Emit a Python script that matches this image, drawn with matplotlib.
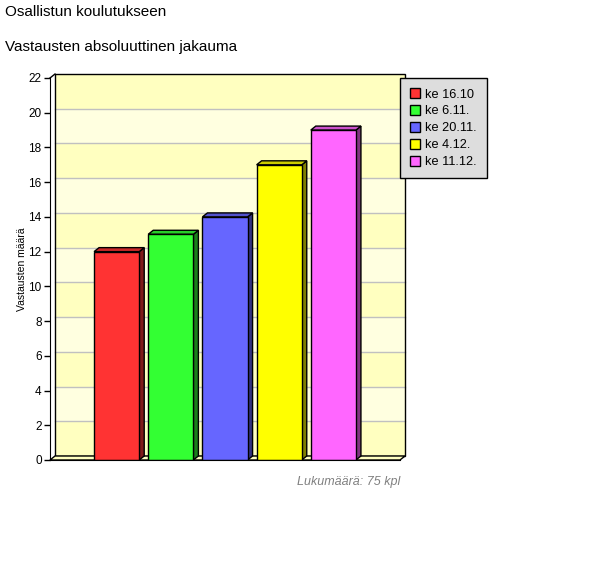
import matplotlib
matplotlib.use("Agg")
import matplotlib.pyplot as plt
from matplotlib.patches import Polygon, Rectangle, Patch
from matplotlib.colors import to_rgb
import numpy as np

plt.rcParams["font.family"] = ["Liberation Sans", "DejaVu Sans"]

# --- data ---------------------------------------------------------------
labels = ["ke 16.10", "ke 6.11.", "ke 20.11.", "ke 4.12.", "ke 11.12."]
values = [12, 13, 14, 17, 19]
colors = ["#FF3333", "#33FF33", "#6666FF", "#FFFF00", "#FF66FF"]
yticks = list(range(0, 23, 2))
title1 = "Osallistun koulutukseen"
title2 = "Vastausten absoluuttinen jakauma"
ylabel = "Vastausten määrä"
footer = "Lukumäärä: 75 kpl"

W, H, DPI = 600, 578, 100
fig = plt.figure(figsize=(W / DPI, H / DPI), dpi=DPI)
fig.patch.set_facecolor("white")

# front plane of the plot in pixels
L, R, B, T = 50, 400, 460, 78
ax = fig.add_axes([L / W, 1 - B / H, (R - L) / W, (B - T) / H])
xmin, xmax, ymax = -1.23, len(values) - 1 + 1.23, 22
ax.set_xlim(xmin, xmax)
ax.set_ylim(0, ymax)

# depth offsets (5 px right, 4 px up) in data units
dx = 5 * (xmax - xmin) / (R - L)
dy = 4 * ymax / (B - T)


def shade(c, f):
    r, g, b = to_rgb(c)
    return (r * f, g * f, b * f)


# back wall with alternating bands
for i, y0 in enumerate(yticks[:-1]):
    fc = "#FFFFC0" if i % 2 == 0 else "#FFFFE0"
    ax.add_patch(Rectangle((xmin + dx, y0 + dy), xmax - xmin, 2, fc=fc, ec="none",
                           zorder=0, clip_on=False))
for y in yticks[1:-1]:
    ax.plot([xmin + dx, xmax + dx], [y + dy, y + dy], color="#C0C0C0", lw=1,
            zorder=1, clip_on=False)
ax.add_patch(Rectangle((xmin + dx, dy), xmax - xmin, ymax, fc="none", ec="black",
                       lw=1, zorder=2, clip_on=False))

# floor slab
ax.add_patch(Polygon([(xmin, 0), (xmax, 0), (xmax + dx, dy), (xmin + dx, dy)],
                     closed=True, fc="#FFFFC0", ec="black", lw=1, zorder=2,
                     clip_on=False))
# left edge diagonal at top
ax.plot([xmin, xmin + dx], [ymax, ymax + dy], color="black", lw=1, zorder=2,
        clip_on=False)

# bars
bw = 45 / 54
for i, (v, c) in enumerate(zip(values, colors)):
    x0, x1 = i - bw / 2, i + bw / 2
    ax.add_patch(Polygon([(x1, 0), (x1 + dx, dy), (x1 + dx, v + dy), (x1, v)],
                         closed=True, fc=shade(c, 0.5), ec="black", lw=1, zorder=3))
    ax.add_patch(Polygon([(x0, v), (x0 + dx, v + dy), (x1 + dx, v + dy), (x1, v)],
                         closed=True, fc=shade(c, 0.8), ec="black", lw=1, zorder=3))
ax.bar(range(len(values)), values, width=bw, color=colors, edgecolor="black",
       linewidth=1, zorder=4)

# axes styling
for s in ["top", "right"]:
    ax.spines[s].set_visible(False)
ax.spines["left"].set_zorder(5)
ax.spines["bottom"].set_zorder(5)
ax.set_facecolor("none")
ax.set_xticks([])
ax.set_yticks(yticks)
ax.tick_params(axis="y", length=4, width=1, labelsize=8.5, pad=2)
ax.set_ylabel(ylabel, fontsize=7.5, labelpad=1)

# texts
fig.text(5 / W, 1 - 12 / H, title1, fontsize=11, va="center", ha="left")
fig.text(5 / W, 1 - 47 / H, title2, fontsize=11, va="center", ha="left")
fig.text(400 / W, 1 - 482 / H, footer, fontsize=9, style="italic",
         color="#808080", ha="right", va="center")

# legend
handles = [Patch(facecolor=c, edgecolor="black", linewidth=1) for c in colors]
leg = fig.legend(handles, labels, loc="upper left",
                 bbox_to_anchor=(400 / W, 1 - 78 / H), fontsize=9.2,
                 frameon=True, fancybox=False, handlelength=0.8,
                 handleheight=0.8, handletextpad=0.35, labelspacing=0.36,
                 borderpad=0.8, borderaxespad=0)
leg.get_frame().set_facecolor("#DDDDDD")
leg.get_frame().set_edgecolor("black")
leg.get_frame().set_linewidth(1)
leg.get_frame().set_alpha(1)

fig.savefig("out.png", dpi=DPI)
